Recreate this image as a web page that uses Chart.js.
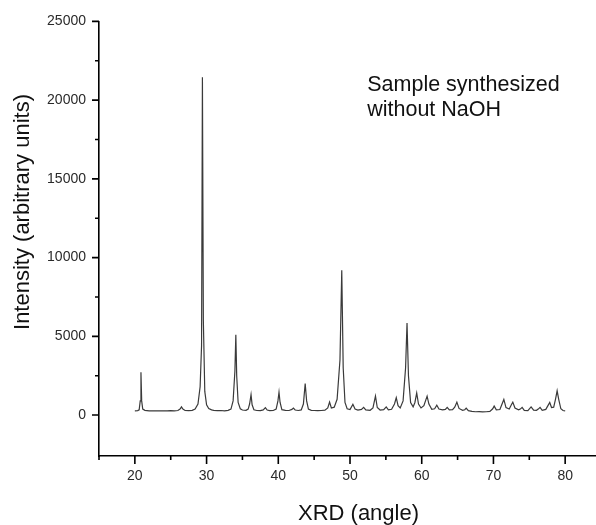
<!DOCTYPE html>
<html>
<head>
<meta charset="utf-8">
<script src="https://cdn.jsdelivr.net/npm/chart.js@4/dist/chart.umd.min.js"></script>
<style>
  html, body { margin: 0; padding: 0; background: #fff; }
  canvas { display: block; }
</style>
</head>
<body>
<canvas id="xrd" width="596" height="525"></canvas>
<script>
// 2θ positions (deg) and counts
var angle = [
  20.0, 20.4, 20.6, 20.75, 20.85, 20.95, 21.1, 21.4, 22.0, 22.5,
  23.0, 23.5, 24.0, 24.5, 25.0, 25.5, 26.0, 26.3, 26.5, 26.7,
  27.0, 27.5, 28.0, 28.4, 28.8, 29.1, 29.3, 29.42, 29.55, 29.75,
  30.0, 30.3, 30.7, 31.0, 31.5, 32.0, 32.5, 33.0, 33.4, 33.7,
  33.95, 34.08, 34.2, 34.4, 34.7, 35.0, 35.5, 35.8, 36.0, 36.2,
  36.35, 36.6, 37.0, 37.5, 37.9, 38.2, 38.45, 38.8, 39.3, 39.7,
  39.95, 40.1, 40.25, 40.5, 41.0, 41.5, 41.9, 42.1, 42.35, 42.8,
  43.2, 43.5, 43.75, 43.95, 44.2, 44.6, 45.0, 45.5, 46.0, 46.5,
  46.9, 47.15, 47.4, 47.8, 48.2, 48.6, 48.85, 49.05, 49.3, 49.6,
  50.0, 50.4, 50.7, 51.1, 51.6, 51.9, 52.2, 52.8, 53.2, 53.55,
  53.8, 54.2, 54.7, 55.05, 55.35, 55.8, 56.2, 56.45, 56.7, 57.0,
  57.4, 57.75, 57.95, 58.15, 58.45, 58.8, 59.05, 59.3, 59.55, 59.9,
  60.3, 60.75, 61.0, 61.4, 61.8, 62.1, 62.4, 62.9, 63.3, 63.55,
  63.85, 64.3, 64.6, 64.9, 65.2, 65.7, 66.0, 66.2, 66.5, 67.0,
  67.5, 68.0, 68.5, 69.0, 69.5, 69.9, 70.1, 70.4, 70.9, 71.2,
  71.45, 71.75, 72.2, 72.5, 72.7, 73.0, 73.5, 73.75, 74.0, 74.3,
  74.8, 75.25, 75.6, 76.0, 76.25, 76.5, 76.8, 77.3, 77.6, 77.85,
  78.1, 78.4, 78.65, 78.88, 79.1, 79.4, 79.7, 80.0
];
var intensity = [
  270, 280, 330, 900, 2720, 900, 380, 300, 270, 260,
  275, 260, 270, 265, 280, 270, 290, 380, 520, 380,
  290, 280, 300, 380, 700, 1800, 4400, 21450, 6000, 1500,
  650, 420, 330, 300, 280, 290, 270, 300, 380, 900,
  2800, 5100, 2500, 800, 400, 320, 300, 380, 700, 1300,
  650, 340, 290, 280, 330, 470, 320, 280, 290, 380,
  900, 1450, 800, 340, 300, 290, 360, 440, 320, 290,
  330, 700, 2000, 900, 380, 300, 290, 280, 290, 310,
  450, 820, 450, 500, 1000, 3500, 9200, 3000, 800, 400,
  350, 680, 380, 310, 360, 490, 330, 300, 450, 1200,
  480, 320, 340, 520, 330, 370, 700, 1100, 600, 450,
  900, 3000, 5850, 2500, 800, 520, 800, 1400, 700, 450,
  600, 1200, 700, 360, 400, 620, 380, 330, 360, 490,
  330, 340, 500, 820, 420, 300, 340, 440, 280, 230,
  210, 220, 205, 210, 230, 400, 570, 330, 350, 700,
  990, 470, 380, 650, 820, 450, 330, 380, 490, 300,
  280, 520, 310, 300, 380, 490, 300, 360, 600, 800,
  480, 500, 1000, 1540, 1000, 400, 290, 270
];
// 刻度
var xMajor = [20, 30, 40, 50, 60, 70, 80];
var xMinor = [15, 25, 35, 45, 55, 65, 75];
var yMajor = [0, 5000, 10000, 15000, 20000, 25000];
var yMinor = [2500, 7500, 12500, 17500, 22500];
var xTitle = 'XRD (angle)';
var yTitle = 'Intensity (arbitrary units)';
var note = ['Sample synthesized', 'without NaOH'];

var FONT = '"Liberation Sans", Arial, sans-serif';

window.onload = function() {
    var points = angle.map(function(a, i) { return { x: a, y: intensity[i] }; });

    // 外向刻度线 + 标题文字
    var decor = {
        id: 'decor',
        afterDraw: function(chart) {
            var ctx = chart.ctx;
            var xs = chart.scales.x, ys = chart.scales.y;
            var area = chart.chartArea;
            ctx.save();
            ctx.strokeStyle = '#000';
            ctx.lineWidth = 1.6;
            ctx.beginPath();
            xMajor.forEach(function(v) {
                var px = xs.getPixelForValue(v);
                ctx.moveTo(px, area.bottom); ctx.lineTo(px, area.bottom + 8);
            });
            xMinor.forEach(function(v) {
                var px = xs.getPixelForValue(v);
                ctx.moveTo(px, area.bottom); ctx.lineTo(px, area.bottom + 4);
            });
            yMajor.forEach(function(v) {
                var py = ys.getPixelForValue(v);
                ctx.moveTo(area.left, py); ctx.lineTo(area.left - 7, py);
            });
            yMinor.forEach(function(v) {
                var py = ys.getPixelForValue(v);
                ctx.moveTo(area.left, py); ctx.lineTo(area.left - 4, py);
            });
            ctx.stroke();

            ctx.fillStyle = '#111';
            ctx.font = '22px ' + FONT;
            ctx.textBaseline = 'alphabetic';
            ctx.textAlign = 'left';
            ctx.fillText(xTitle, 298, 520);

            ctx.save();
            ctx.translate(29, 212);
            ctx.rotate(-Math.PI / 2);
            ctx.textAlign = 'center';
            ctx.fillText(yTitle, 0, 0);
            ctx.restore();

            ctx.font = '21.5px ' + FONT;
            ctx.textAlign = 'left';
            var nx = xs.getPixelForValue(52.4);
            var ny = ys.getPixelForValue(20570);
            ctx.fillText(note[0], nx, ny);
            ctx.fillText(note[1], nx, ny + 25);
            ctx.restore();
        }
    };

    var tickFont = { family: FONT, size: 14 };
    var plain = function(v) { return String(v); }; // 不要千分位逗号

    new Chart(document.getElementById('xrd'), {
        type: 'line',
        data: {
            datasets: [{
                data: points,
                borderColor: '#3a3a3a',
                borderWidth: 1.2,
                pointRadius: 0,
                tension: 0,
                fill: false
            }]
        },
        options: {
            responsive: false,
            animation: false,
            events: [],
            layout: { padding: { top: 20, left: 0, right: 0, bottom: 0 } },
            plugins: { legend: { display: false }, tooltip: { enabled: false } },
            scales: {
                x: {
                    type: 'linear',
                    min: 15,
                    max: 84.3,
                    afterBuildTicks: function(s) { s.ticks = xMajor.map(function(v) { return { value: v }; }); },
                    afterFit: function(s) { s.height = 69; },
                    grid: { display: false, drawTicks: false },
                    border: { display: true, color: '#000', width: 1.6 },
                    ticks: { padding: 12, color: '#2a2a2a', font: tickFont, maxRotation: 0, autoSkip: false, callback: plain }
                },
                y: {
                    type: 'linear',
                    min: -2600,
                    max: 25000,
                    afterBuildTicks: function(s) { s.ticks = yMajor.map(function(v) { return { value: v }; }); },
                    afterFit: function(s) { s.width = 99; },
                    grid: { display: false, drawTicks: false },
                    border: { display: true, color: '#000', width: 1.6 },
                    ticks: { padding: 13, color: '#2a2a2a', font: tickFont, autoSkip: false, callback: plain }
                }
            }
        },
        plugins: [decor]
    });
};
</script>
</body>
</html>
